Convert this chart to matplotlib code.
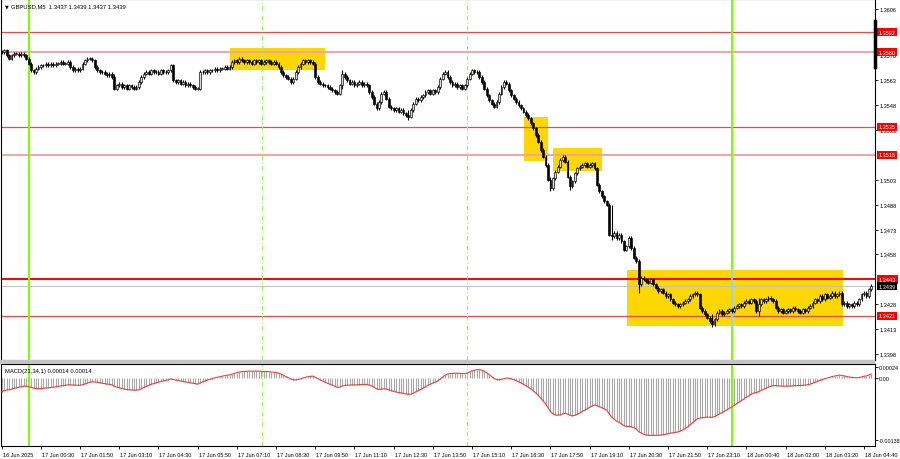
import matplotlib
import numpy as np
matplotlib.use("Agg")
import matplotlib.pyplot as plt
import matplotlib.transforms as mtransforms
from matplotlib.patches import Rectangle

plt.rcParams['font.family'] = ['Liberation Sans', 'DejaVu Sans']

# GBPUSD M5 closes, in pips above 1.3400, one per bar from 16 Jun 23:10
closes_pips = [
    180, 181, 178, 176, 178, 179, 179, 178, 179, 178,
    176, 173, 169, 168, 170, 171, 172, 172, 173, 172,
    173, 172, 173, 173, 174, 173, 173, 174, 171, 169,
    170, 169, 170, 173, 175, 176, 176, 175, 171, 169,
    168, 168, 167, 166, 167, 165, 158, 160, 161, 159,
    160, 158, 160, 159, 158, 159, 162, 165, 167, 168,
    167, 169, 168, 168, 167, 169, 168, 168, 169, 172,
    163, 162, 163, 161, 162, 160, 161, 160, 159, 158,
    158, 168, 168, 169, 168, 169, 169, 170, 169, 170,
    170, 171, 170, 171, 174, 175, 174, 176, 175, 174,
    175, 174, 173, 175, 174, 175, 173, 174, 175, 174,
    173, 174, 173, 171, 168, 166, 165, 164, 162, 164,
    168, 171, 173, 175, 174, 175, 174, 173, 165, 162,
    161, 160, 160, 159, 158, 157, 156, 155, 160, 167,
    165, 163, 161, 162, 160, 161, 162, 160, 161, 160,
    156, 153, 149, 146, 150, 155, 156, 152, 147, 146,
    145, 146, 144, 145, 143, 142, 141, 145, 149, 152,
    151, 153, 154, 156, 157, 155, 157, 156, 159, 164,
    167, 168, 165, 162, 160, 161, 159, 160, 158, 160,
    164, 167, 169, 168, 168, 165, 162, 158, 154, 151,
    149, 147, 150, 155, 159, 162, 161, 157, 154, 152,
    150, 148, 146, 144, 142, 140, 137, 134, 130, 126,
    121, 117, 112, 103, 98, 104, 108, 111, 115, 117,
    114, 105, 99, 102, 107, 110, 111, 112, 113, 111,
    112, 113, 110, 100, 96, 93, 90, 88, 70, 69,
    71, 68, 70, 66, 61, 63, 68, 62, 56, 54,
    40, 44, 43, 42, 41, 43, 40, 38, 36, 37,
    35, 33, 34, 31, 29, 28, 27, 28, 29, 30,
    31, 33, 34, 35, 34, 26, 24, 22, 20, 18,
    16, 19, 23, 24, 22, 23, 24, 25, 24, 26,
    27, 28, 27, 29, 30, 29, 31, 30, 24, 28,
    31, 30, 31, 32, 31, 30, 26, 24, 25, 23,
    24, 25, 24, 26, 25, 24, 23, 25, 24, 26,
    27, 29, 31, 30, 33, 31, 34, 32, 33, 35,
    33, 34, 35, 28, 29, 27, 28, 27, 29, 28,
    31, 34, 35, 33, 37, 39,
]
# bars with long wicks: index -> (high, low) in pips
wick_spikes = {46: (167, 157), 139: (169, 158), 166: (145, 139), 224: (105, 96),
               232: (106, 97), 249: (88, 67), 260: (55, 35), 290: (22, 14),
               309: (32, 21), 343: (36, 27)}

xlabels = ['16 Jun 2025', '17 Jun 00:30', '17 Jun 01:50', '17 Jun 03:10', '17 Jun 04:30',
           '17 Jun 05:50', '17 Jun 07:10', '17 Jun 08:30', '17 Jun 09:50', '17 Jun 11:10',
           '17 Jun 12:30', '17 Jun 13:50', '17 Jun 15:10', '17 Jun 16:30', '17 Jun 17:50',
           '17 Jun 19:10', '17 Jun 20:30', '17 Jun 21:50', '17 Jun 23:10', '18 Jun 00:40',
           '18 Jun 02:00', '18 Jun 03:20', '18 Jun 04:40']
price_ticks = [1.3606, 1.3578, 1.3563, 1.3548, 1.3533, 1.3503, 1.3488, 1.3473,
               1.3458, 1.3428, 1.3413, 1.3398]
level_lines = [1.3592, 1.3580, 1.3535, 1.3518, 1.3443, 1.3421]
level_style = ['thin', 'pale', 'thin', 'pale', 'bold', 'thin']
bid_price = 1.3439
# (first bar, last bar, low, high)
boxes = [(93.2, 132.0, 1.35692, 1.35825), (213.3, 223.1, 1.35142, 1.35411),
         (225.1, 245.0, 1.35085, 1.35220), (255.4, 343.3, 1.34150, 1.34486)]
solid_vlines = [11, 298]
dashed_vlines = [106.3, 190]
macd_seed_fast = 1.35785
macd_seed_slow = 1.35818

closes = 1.34 + np.array(closes_pips) / 10000.
n = len(closes)
idx = np.arange(n)
opens = np.r_[closes[0], closes[:-1]]
highs = np.maximum(opens, closes) + 0.0001
lows = np.minimum(opens, closes) - 0.0001
for k, (h, l) in wick_spikes.items():
    highs[k] = 1.34 + h / 10000.
    lows[k] = 1.34 + l / 10000.

# MACD(21,34,1)
af = 2. / 22.
aslow = 2. / 35.
ef = macd_seed_fast
es = macd_seed_slow
macd = []
for c in closes:
    ef = ef + af * (c - ef)
    es = es + aslow * (c - es)
    macd.append(ef - es)
macd = np.array(macd)

fig = plt.figure(figsize=(9, 4.6), dpi=100)
ax = fig.add_axes([1/900., 1 - 361/460., 874/900., 361/460.])
ax2 = fig.add_axes([1/900., 1 - 447/460., 874/900., 82/460.])
fig.patches.append(Rectangle((0, 1 - 365/460.), 875/900., 4/460., transform=fig.transFigure,
                             facecolor='#c4c4c4', edgecolor='none'))

xl = (-0.29, 356.5)
for a in (ax, ax2):
    a.set_xlim(xl)
    for s in a.spines.values():
        s.set_color('black')
        s.set_linewidth(0.8)
ax.set_ylim(1.33944, 1.36120)
ax2.set_ylim(-0.00151, 0.00031)

# boxes
for x0, x1, y0, y1 in boxes:
    ax.add_patch(Rectangle((x0, y0), x1 - x0, y1 - y0, facecolor='#ffd700', edgecolor='none', zorder=1))

# level lines
for p, st in zip(level_lines, level_style):
    if st == 'bold':
        ax.axhline(p, color='#ff0000', lw=1.4, zorder=2)
    elif st == 'pale':
        ax.axhline(p, color='#f4a3a3', lw=1.4, zorder=2)
    else:
        ax.axhline(p, color='#f04646', lw=0.9, zorder=2)
ax.axhline(bid_price, color='#c0c0c0', lw=0.7, zorder=2)

for a in (ax, ax2):
    for v in solid_vlines:
        a.axvline(v, color='#7cfc00', lw=1.4, zorder=2)
    for v in dashed_vlines:
        a.axvline(v, color='#9cf55c', lw=0.8, ls=(0, (4, 2, 1, 2)), zorder=2)
b = boxes[3]
ax.plot([298, 298], [b[2], b[3]], color='#8fd3ff', lw=1.4, zorder=2)

# candles
ax.vlines(idx, lows, highs, color='black', lw=0.8, zorder=3)
up = closes >= opens
body = np.abs(closes - opens)
body = np.where(body < 0.00002, 0.00002, body)
bot = np.minimum(opens, closes)
ax.bar(idx[up], body[up], bottom=bot[up], width=0.75, color='#d8d8d8', edgecolor='black', lw=0.45, zorder=4)
ax.bar(idx[~up], body[~up], bottom=bot[~up], width=0.75, color='black', edgecolor='black', lw=0.45, zorder=4)

# right price axis
ax.yaxis.tick_right()
ax.set_yticks(price_ticks)
ax.set_yticklabels(['%.4f' % p for p in price_ticks])
ax.tick_params(axis='y', direction='out', length=2, width=0.6, labelsize=4, pad=1.5)
ax.set_xticks([])
tr = mtransforms.blended_transform_factory(ax.transAxes, ax.transData)
for p in level_lines:
    ax.text(1.004, p, '%.4f' % p, transform=tr, ha='left', va='center', fontsize=4, color='white',
            bbox=dict(boxstyle='square,pad=0.3', fc='#ff0000', ec='none'), clip_on=False, zorder=6)
ax.text(1.004, bid_price, '%.4f' % bid_price, transform=tr, ha='left', va='center', fontsize=4,
        color='white', bbox=dict(boxstyle='square,pad=0.3', fc='black', ec='none'), clip_on=False, zorder=6)
ax.plot([1.0, 1.0], [1.35988, 1.35710], transform=tr, color='black', lw=2.5, clip_on=False, zorder=6)

ax.text(0.004, 0.982, u'\u25bc', transform=ax.transAxes, fontsize=3.5, family=['DejaVu Sans'],
        ha='left', va='center')
ax.text(0.012, 0.982, 'GBPUSD,M5  1.3437 1.3439 1.3437 1.3439', transform=ax.transAxes,
        fontsize=4.2, ha='left', va='center')

# MACD panel
ax2.vlines(idx, 0, macd, color='#a8a8a8', lw=0.8, zorder=1)
ax2.plot(idx, macd, color='#f03c3c', lw=0.8, zorder=3)
ax2.yaxis.tick_right()
ax2.set_yticks([0.00024, 0.0, -0.00138])
ax2.set_yticklabels(['0.00024', '0.00', '-0.00138'])
ax2.tick_params(axis='y', direction='out', length=2, width=0.6, labelsize=3.9, pad=1)
ax2.set_xticks(np.arange(len(xlabels)) * 16)
ax2.set_xticklabels(xlabels, ha='left')
ax2.tick_params(axis='x', direction='out', length=2.5, width=0.6, labelsize=4, pad=1.5)
for lab in ax2.get_xticklabels():
    lab.set_transform(lab.get_transform() + mtransforms.ScaledTranslation(1/100., 0, fig.dpi_scale_trans))
ax2.text(0.005, 0.92, 'MACD(21,34,1) 0.00014 0.00014', transform=ax2.transAxes, fontsize=4.2,
         ha='left', va='center')

plt.savefig('out.png', dpi=100)
